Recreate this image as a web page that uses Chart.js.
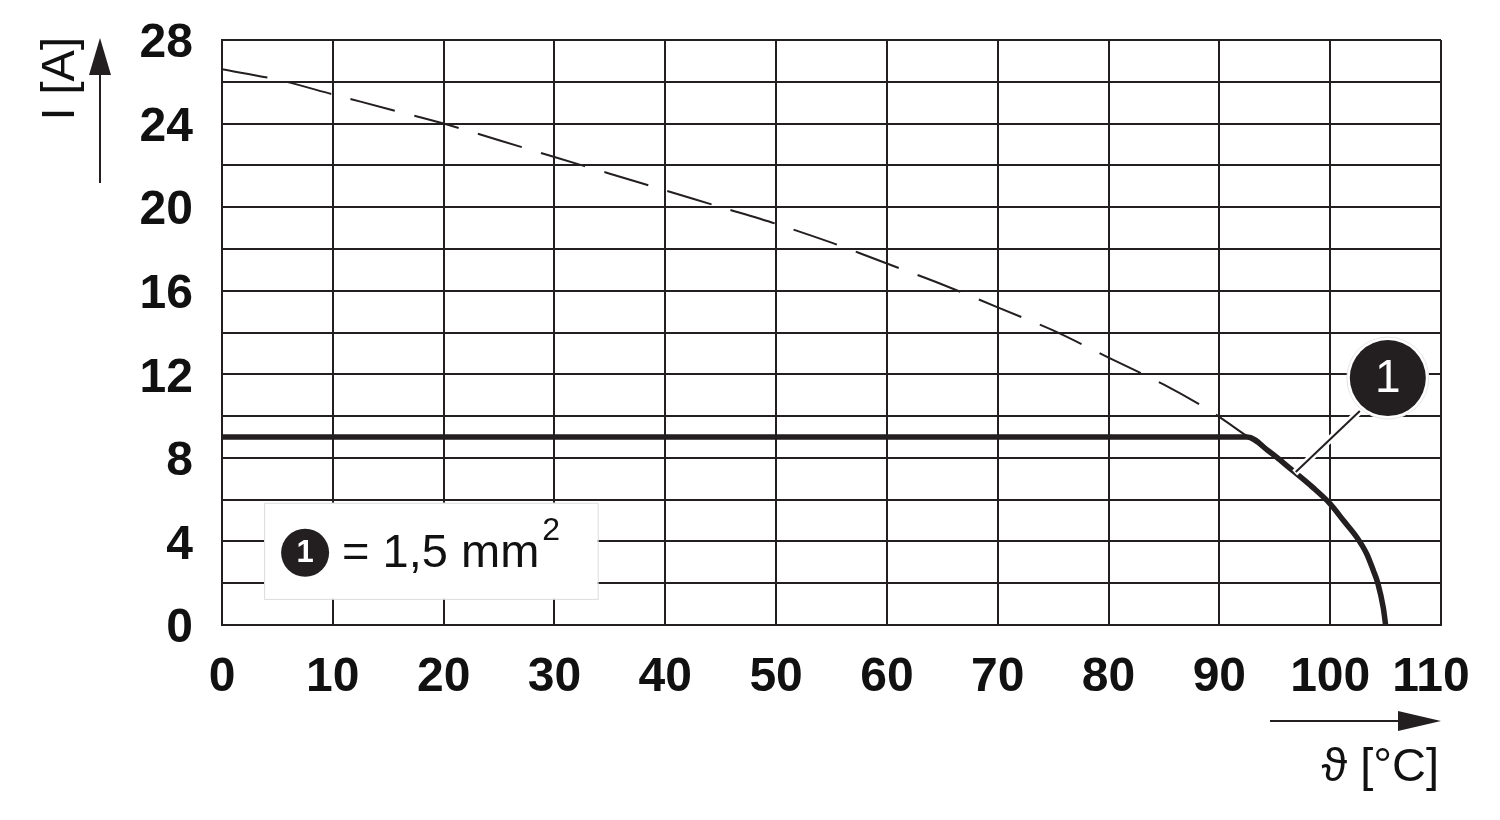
<!DOCTYPE html>
<html>
<head>
<meta charset="utf-8">
<script src="https://cdn.jsdelivr.net/npm/chart.js@4/dist/chart.umd.min.js"></script>
<style>
  html, body { margin: 0; padding: 0; background: #ffffff; }
  #wrap { width: 1500px; height: 820px; position: relative; }
</style>
</head>
<body>
<div id="wrap"><canvas id="c" width="1500" height="820"></canvas></div>
<script>
// ---- data ----
const dashedX = [0, 5, 10, 15, 20, 25, 30, 35, 40, 45, 50, 55, 60, 65, 70, 75, 80, 85, 89, 92.6];
const dashedY = [26.6, 26.1, 25.4, 24.7, 24.0, 23.2, 22.4, 21.6, 20.8, 20.0, 19.2, 18.3, 17.3, 16.3, 15.2, 14.1, 12.8, 11.5, 10.3, 9.0];
const currentX = [0, 90, 92.5, 94.5, 96.6, 98.4, 100, 101.2, 102.4, 103.3, 103.9, 104.3, 104.8, 105];
const currentY = [9, 9, 9, 8.3, 7.4, 6.6, 5.8, 5.0, 4.2, 3.4, 2.6, 2.0, 0.8, 0];
const xTicks = [0, 10, 20, 30, 40, 50, 60, 70, 80, 90, 100, 110];
const yTicks = [0, 4, 8, 12, 16, 20, 24, 28];
const yTitle = "I [A]";
const xTitle = "\u03D1 [°C]";
const calloutLabel = "1";
const legendText = "= 1,5 mm";
const legendSup = "2";

const INK = '#231f20';
const FONT = '"Liberation Sans", Arial, Helvetica, sans-serif';

const toPts = (xs, ys) => xs.map((x, i) => ({ x: x, y: ys[i] }));

function drawBadge(ctx, cx, cy, r, fontPx, ring, weight) {
  if (ring) {
    ctx.beginPath();
    ctx.arc(cx, cy, r + ring, 0, Math.PI * 2);
    ctx.fillStyle = '#ffffff';
    ctx.fill();
    ctx.lineWidth = 1;
    ctx.strokeStyle = '#e6e6e6';
    ctx.stroke();
  }
  ctx.beginPath();
  ctx.arc(cx, cy, r, 0, Math.PI * 2);
  ctx.fillStyle = INK;
  ctx.fill();
  ctx.fillStyle = '#ffffff';
  ctx.font = weight + ' ' + fontPx + 'px ' + FONT;
  ctx.textAlign = 'center';
  ctx.textBaseline = 'middle';
  ctx.fillText(calloutLabel, cx, cy + 1);
}

const decor = {
  id: 'decor',
  afterDatasetsDraw(chart) {
    const ctx = chart.ctx;
    const xs = chart.scales.x, ys = chart.scales.y;
    ctx.save();

    // legend box
    const bx = xs.getPixelForValue(3.8), by = ys.getPixelForValue(5.85);
    const bw = xs.getPixelForValue(33.9) - bx, bh = ys.getPixelForValue(1.25) - by;
    ctx.fillStyle = '#ffffff';
    ctx.fillRect(bx, by, bw, bh);
    ctx.strokeStyle = '#dcdcdc';
    ctx.lineWidth = 1;
    ctx.strokeRect(bx + 0.5, by + 0.5, bw, bh);
    const lcx = bx + 41, lcy = by + 50;
    drawBadge(ctx, lcx, lcy, 24, 31, 0, 'bold');
    ctx.fillStyle = '#111111';
    ctx.font = '47px ' + FONT;
    ctx.textAlign = 'left';
    ctx.textBaseline = 'alphabetic';
    ctx.fillText(legendText, bx + 78, by + 64);
    const tw = ctx.measureText(legendText).width;
    ctx.font = '32px ' + FONT;
    ctx.fillText(legendSup, bx + 78 + tw + 3, by + 37);

    // callout leader + badge
    const ax = xs.getPixelForValue(96.8), ay = ys.getPixelForValue(7.28);
    const cx = xs.getPixelForValue(105.2), cy = ys.getPixelForValue(11.82);
    const ex = cx - 28, ey = cy + 33;
    ctx.lineCap = 'butt';
    ctx.strokeStyle = '#ffffff';
    ctx.lineWidth = 7;
    ctx.beginPath(); ctx.moveTo(ax, ay); ctx.lineTo(ex, ey); ctx.stroke();
    ctx.strokeStyle = INK;
    ctx.lineWidth = 2;
    ctx.beginPath(); ctx.moveTo(ax + 1, ay - 1); ctx.lineTo(ex, ey); ctx.stroke();
    drawBadge(ctx, cx, cy, 38, 46, 3, 'normal');

    // y axis title + arrow
    ctx.fillStyle = '#111111';
    ctx.save();
    ctx.translate(74, 37);
    ctx.rotate(-Math.PI / 2);
    ctx.font = '47px ' + FONT;
    ctx.textAlign = 'right';
    ctx.textBaseline = 'alphabetic';
    ctx.fillText(yTitle, 0, 0);
    ctx.restore();
    ctx.strokeStyle = INK;
    ctx.lineWidth = 2;
    ctx.beginPath(); ctx.moveTo(100, 183); ctx.lineTo(100, 70); ctx.stroke();
    ctx.fillStyle = INK;
    ctx.beginPath(); ctx.moveTo(100, 38); ctx.lineTo(111, 75); ctx.lineTo(89, 75); ctx.closePath(); ctx.fill();

    // x axis arrow + title
    const arY = 721;
    ctx.beginPath(); ctx.moveTo(1270, arY); ctx.lineTo(1405, arY); ctx.stroke();
    ctx.beginPath(); ctx.moveTo(1441, arY); ctx.lineTo(1398, arY - 10); ctx.lineTo(1398, arY + 10); ctx.closePath(); ctx.fill();
    ctx.fillStyle = '#111111';
    ctx.font = '47px ' + FONT;
    ctx.textAlign = 'right';
    ctx.textBaseline = 'alphabetic';
    ctx.fillText(xTitle, 1439, 781);

    ctx.restore();
  }
};

new Chart(document.getElementById('c'), {
  type: 'line',
  data: {
    datasets: [
      {
        data: toPts(dashedX, dashedY),
        borderColor: INK,
        borderWidth: 2,
        borderDash: [46, 20],
        pointRadius: 0,
        tension: 0.3,
        fill: false
      },
      {
        data: toPts(currentX, currentY),
        borderColor: INK,
        borderWidth: 5.5,
        pointRadius: 0,
        cubicInterpolationMode: 'monotone',
        fill: false,
        clip: 8
      }
    ]
  },
  options: {
    responsive: false,
    animation: false,
    events: [],
    layout: { padding: { top: 40, right: 59, left: 0, bottom: 0 } },
    plugins: { legend: { display: false }, tooltip: { enabled: false } },
    scales: {
      x: {
        type: 'linear',
        min: 0, max: 110,
        afterBuildTicks(s) { s.ticks = xTicks.map(v => ({ value: v })); },
        afterFit(s) { s.height = 195; s.paddingLeft = 0; s.paddingRight = 0; },
        grid: { color: INK, lineWidth: 2, drawTicks: false },
        border: { color: INK, width: 2 },
        ticks: {
          padding: 24,
          color: '#111111',
          maxRotation: 0,
          autoSkip: false,
          font: { family: FONT, size: 48, weight: 'bold' },
          callback: v => (v === 110 ? '110\u2005\u2006' : String(v))
        }
      },
      y: {
        type: 'linear',
        min: 0, max: 28,
        afterBuildTicks(s) {
          const t = [];
          for (let v = 0; v <= 28; v += 2) t.push({ value: v });
          s.ticks = t;
        },
        afterFit(s) { s.width = 222; s.paddingTop = 0; s.paddingBottom = 0; },
        grid: { color: INK, lineWidth: 2, drawTicks: false },
        border: { color: INK, width: 2 },
        ticks: {
          padding: 29,
          labelOffset: 4,
          color: '#111111',
          autoSkip: false,
          font: { family: FONT, size: 48, weight: 'bold' },
          callback: v => (yTicks.includes(v) ? String(v) : '')
        }
      }
    }
  },
  plugins: [decor]
});
</script>
</body>
</html>
